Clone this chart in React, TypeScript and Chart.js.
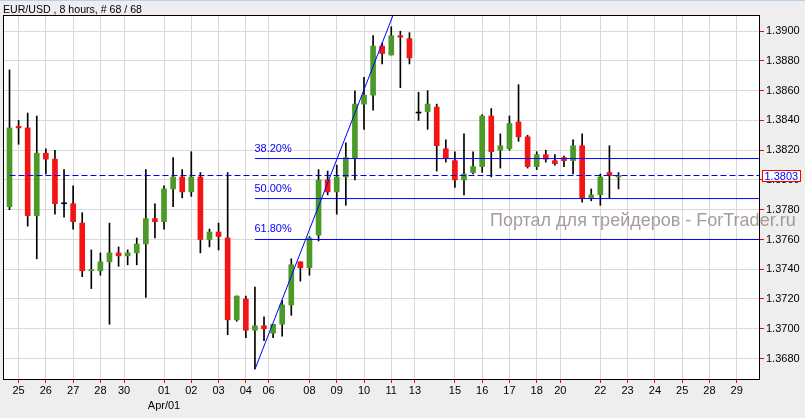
import React, { useEffect, useRef } from 'react';
import { Chart, registerables } from 'chart.js';

Chart.register(...registerables);

// ---- Data (EUR/USD, 8 hours, 68 candles) ----
const OPEN = [
  1.3782, 1.3836, 1.3835, 1.3776, 1.3818, 1.3814, 1.3784, 1.3784, 1.3771, 1.3739,
  1.3739, 1.3745, 1.3751, 1.3749, 1.3751, 1.3757, 1.3774, 1.3772, 1.3794, 1.3802,
  1.3792, 1.3802, 1.3760, 1.3765, 1.3761, 1.3706, 1.3720, 1.3699, 1.3702, 1.3697,
  1.3703, 1.3716, 1.3745, 1.3741, 1.3763, 1.3800, 1.3792, 1.3802, 1.3815, 1.3851,
  1.3857, 1.3890, 1.3884, 1.3897, 1.3895, 1.3845, 1.3846, 1.3849, 1.3821, 1.3813,
  1.3800, 1.3805, 1.3809, 1.3843, 1.3820, 1.3821, 1.3839, 1.3829, 1.3809, 1.3817,
  1.3813, 1.3815, 1.3813, 1.3823, 1.3788, 1.3790, 1.3805, 1.3802,
];
const HIGH = [
  1.3874, 1.3840, 1.3845, 1.3843, 1.3821, 1.3820, 1.3807, 1.3796, 1.3778, 1.3753,
  1.3751, 1.3771, 1.3755, 1.3753, 1.3761, 1.3807, 1.3784, 1.3796, 1.3815, 1.3807,
  1.3819, 1.3805, 1.3767, 1.3771, 1.3805, 1.3722, 1.3722, 1.3728, 1.3708, 1.3703,
  1.3719, 1.3747, 1.3745, 1.3762, 1.3807, 1.3806, 1.3810, 1.3825, 1.3860, 1.3869,
  1.3897, 1.3892, 1.3903, 1.3900, 1.3899, 1.3859, 1.3860, 1.3851, 1.3827, 1.3819,
  1.3831, 1.3819, 1.3844, 1.3848, 1.3831, 1.3843, 1.3864, 1.3830, 1.3819, 1.3820,
  1.3817, 1.3816, 1.3827, 1.3831, 1.3794, 1.3804, 1.3823, 1.3805,
];
const LOW = [
  1.3780, 1.3824, 1.3769, 1.3747, 1.3804, 1.3777, 1.3775, 1.3767, 1.3735, 1.3727,
  1.3736, 1.3703, 1.3742, 1.3743, 1.3743, 1.3721, 1.3761, 1.3767, 1.3782, 1.3788,
  1.3789, 1.3751, 1.3755, 1.3753, 1.3696, 1.3705, 1.3694, 1.3673, 1.3692, 1.3694,
  1.3695, 1.3709, 1.3732, 1.3736, 1.3759, 1.3790, 1.3777, 1.3783, 1.3800, 1.3834,
  1.3847, 1.3878, 1.3884, 1.3862, 1.3878, 1.3840, 1.3834, 1.3806, 1.3812, 1.3795,
  1.3790, 1.3804, 1.3805, 1.3802, 1.3808, 1.3820, 1.3826, 1.3808, 1.3807, 1.3812,
  1.3810, 1.3809, 1.3804, 1.3785, 1.3786, 1.3783, 1.3788, 1.3794,
];
const CLOSE = [
  1.3835, 1.3835, 1.3776, 1.3818, 1.3814, 1.3784, 1.3784, 1.3772, 1.3739, 1.37392,
  1.3745, 1.3751, 1.3749, 1.3751, 1.3757, 1.3774, 1.3772, 1.3794, 1.3802, 1.3792,
  1.3802, 1.3760, 1.3765, 1.3762, 1.3706, 1.3722, 1.3699, 1.3702, 1.3700, 1.3703,
  1.3716, 1.3743, 1.3741, 1.3761, 1.3800, 1.3792, 1.3802, 1.3815, 1.3851, 1.3857,
  1.3890, 1.3885, 1.3897, 1.3896, 1.3882, 1.3845, 1.3851, 1.3823, 1.3815, 1.3800,
  1.3804, 1.3809, 1.3843, 1.3819, 1.3823, 1.3838, 1.3829, 1.3809, 1.3817, 1.3814,
  1.3811, 1.3813, 1.3823, 1.3788, 1.3790, 1.3802, 1.3803, 1.3803,
];

// day ticks (candle index where each labelled day starts)
const TICK_POS = [1, 4, 7, 10, 12.6, 17, 20, 23, 26, 28.5, 33, 36, 39, 42, 44.6, 49, 52, 55, 58, 60.6, 65, 68, 71, 74, 77, 80];
const TICK_LABELS = ['25', '26', '27', '28', '30', '01', '02', '03', '04', '06', '08', '09', '10', '11', '13', '15', '16', '17', '18', '20', '22', '23', '24', '25', '28', '29'];
const TICK_SUBLABELS = ['', '', '', '', '', 'Apr/01', '', '', '', '', '', '', '', '', '', '', '', '', '', '', '', '', '', '', '', ''];
const PRICE_TICKS = [1.368, 1.370, 1.372, 1.374, 1.376, 1.378, 1.380, 1.382, 1.384, 1.386, 1.388, 1.390];

const FIB_LEVELS = [1.38144, 1.37875, 1.37600];
const FIB_LABELS = ['38.20%', '50.00%', '61.80%'];
const FIB_START = 27;
const TREND_X = [27, 44];
const TREND_Y = [1.36727, 1.3939];
const LAST_PRICE = 1.3803;

const HEADER = 'EUR/USD , 8 hours, # 68 / 68';
const WATERMARK = 'Портал для трейдеров - ForTrader.ru';

const X_MIN = -0.605;
const X_MAX = 82.455;
const Y_MIN = 1.366622;
const Y_MAX = 1.3910217;

const FONT = 'Liberation Sans';
const GREEN = '#4b9a28';
const RED = '#f41414';

const decor = {
  id: 'decor',
  beforeDraw(chart: any) {
    const { ctx, chartArea: a, width, height } = chart;
    ctx.save();
    ctx.fillStyle = '#eeeeee';
    ctx.fillRect(0, 0, width, height);
    ctx.fillStyle = '#b9d1ea';
    ctx.fillRect(0, 0, width, 1);
    ctx.fillStyle = '#ffffff';
    ctx.fillRect(a.left, a.top, a.right - a.left, a.bottom - a.top);
    ctx.restore();
  },
  afterDraw(chart: any) {
    const { ctx, chartArea: a, scales } = chart;
    const xs = scales.x;
    const ys = scales.y;
    ctx.save();
    // frame
    ctx.strokeStyle = '#000000';
    ctx.lineWidth = 1;
    ctx.strokeRect(a.left - 0.5, a.top - 0.5, a.right - a.left + 1, a.bottom - a.top + 1);

    // header
    ctx.fillStyle = '#000000';
    ctx.font = `10.6px "${FONT}"`;
    ctx.textAlign = 'left';
    ctx.textBaseline = 'alphabetic';
    ctx.fillText(HEADER, 3, 13);

    // fib labels
    ctx.fillStyle = '#0000ff';
    ctx.font = `11px "${FONT}"`;
    const fx = xs.getPixelForValue(FIB_START) - 0.5;
    FIB_LEVELS.forEach((v, i) => {
      const y = ys.getPixelForValue(v);
      ctx.fillText(FIB_LABELS[i], fx, y - 7);
    });

    // watermark
    ctx.fillStyle = 'rgba(150,138,138,0.85)';
    ctx.font = `18px "${FONT}"`;
    ctx.fillText(WATERMARK, 490, 226);

    // last price box
    const yp = ys.getPixelForValue(LAST_PRICE);
    const bx = a.right + 3.5;
    const by = Math.round(yp) - 5.5;
    ctx.fillStyle = '#ffffff';
    ctx.fillRect(bx, by, 38, 11);
    ctx.strokeStyle = '#ff0000';
    ctx.strokeRect(bx, by, 38, 11);
    ctx.fillStyle = '#0000ff';
    ctx.font = `11px "${FONT}"`;
    ctx.textBaseline = 'middle';
    ctx.fillText(LAST_PRICE.toFixed(4), bx + 2, by + 6);
    ctx.restore();
  },
};

export default function App() {
  const ref = useRef<HTMLCanvasElement | null>(null);

  useEffect(() => {
    document.body.style.margin = '0';
    const canvas = ref.current;
    if (!canvas) return;

    const idx = OPEN.map((_, i) => i);
    const bodies = idx.map((i) => ({ x: i, y: [OPEN[i], CLOSE[i]] }));
    const wicks = idx.map((i) => ({ x: i, y: [LOW[i], HIGH[i]] }));
    const colors = idx.map((i) =>
      CLOSE[i] > OPEN[i] ? GREEN : CLOSE[i] < OPEN[i] ? RED : '#000000'
    );

    const lineBase = {
      type: 'line' as const,
      borderWidth: 1,
      pointRadius: 0,
      pointHoverRadius: 0,
      fill: false,
      tension: 0,
      order: 0,
    };

    const chart = new Chart(canvas, {
      type: 'bar',
      data: {
        datasets: [
          ...FIB_LEVELS.map((v) => ({
            ...lineBase,
            data: [
              { x: FIB_START, y: v },
              { x: X_MAX, y: v },
            ],
            borderColor: '#0000ff',
          })),
          {
            ...lineBase,
            data: [
              { x: 0, y: LAST_PRICE },
              { x: X_MAX, y: LAST_PRICE },
            ],
            borderColor: '#0000ff',
            borderDash: [6, 3],
          },
          {
            ...lineBase,
            data: TREND_X.map((x, i) => ({ x, y: TREND_Y[i] })),
            borderColor: '#0000ff',
          },
          {
            type: 'bar' as const,
            data: bodies as any,
            backgroundColor: colors,
            barThickness: 5,
            minBarLength: 1,
            grouped: false,
            order: 1,
          },
          {
            type: 'bar' as const,
            data: wicks as any,
            backgroundColor: '#000000',
            barThickness: 1,
            grouped: false,
            order: 2,
          },
        ] as any,
      },
      options: {
        animation: false,
        responsive: false,
        devicePixelRatio: 1,
        layout: { padding: { left: 4, top: 16, right: 0, bottom: 0 } },
        plugins: {
          legend: { display: false },
          tooltip: { enabled: false },
          title: { display: false },
        },
        events: [],
        scales: {
          x: {
            type: 'linear',
            min: X_MIN,
            max: X_MAX,
            offset: false,
            position: 'bottom',
            afterBuildTicks: (s: any) => {
              s.ticks = TICK_POS.map((v) => ({ value: v }));
            },
            afterFit: (s: any) => {
              s.height = 39;
            },
            ticks: {
              autoSkip: false,
              maxRotation: 0,
              minRotation: 0,
              padding: 0,
              color: '#000000',
              font: { family: FONT, size: 11, lineHeight: '15px' },
              callback: (_v: any, i: number) =>
                TICK_SUBLABELS[i] ? [TICK_LABELS[i], TICK_SUBLABELS[i]] : TICK_LABELS[i],
            },
            grid: {
              offset: false,
              color: '#d9d9d9',
              tickColor: '#ff0000',
              tickLength: 4,
              lineWidth: 1,
            },
            border: { display: false },
          },
          y: {
            type: 'linear',
            position: 'right',
            min: Y_MIN,
            max: Y_MAX,
            afterBuildTicks: (s: any) => {
              s.ticks = PRICE_TICKS.map((v) => ({ value: v }));
            },
            afterFit: (s: any) => {
              s.width = 46;
            },
            ticks: {
              autoSkip: false,
              padding: 2,
              color: '#000000',
              font: { family: FONT, size: 11 },
              callback: (v: any) => Number(v).toFixed(4),
            },
            grid: {
              color: '#d9d9d9',
              tickColor: '#ff0000',
              tickLength: 5,
              lineWidth: 1,
            },
            border: { display: false },
          },
        },
      } as any,
      plugins: [decor],
    });

    return () => chart.destroy();
  }, []);

  return (
    <div style={{ position: 'absolute', left: 0, top: 0, width: 805, height: 418 }}>
      <canvas ref={ref} width={805} height={418} style={{ display: 'block' }} />
    </div>
  );
}
